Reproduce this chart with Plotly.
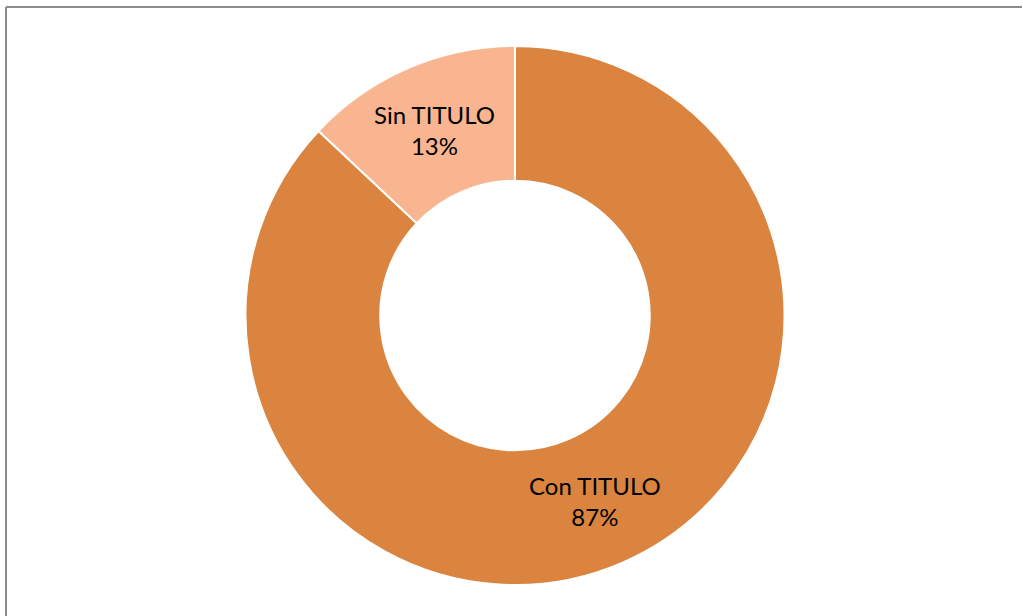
import math
import plotly.graph_objects as go

labels = ['Con TITULO', 'Sin TITULO']
values = [87, 13]
colors = ['#DA843F', '#F8B590']

W, H = 1023, 616
# donut box in pixels
top, bottom, cx = 46, 585, 515
cy = (top + bottom) / 2
r_out = (bottom - top) / 2
hole = 0.5

fig = go.Figure(go.Pie(
    labels=labels,
    values=values,
    hole=hole,
    sort=False,
    direction='clockwise',
    rotation=0,
    marker=dict(colors=colors, line=dict(color='white', width=2)),
    textinfo='none',
    domain=dict(x=[(cx - r_out) / W, (cx + r_out) / W], y=[1 - bottom / H, 1 - top / H]),
    showlegend=False,
    hoverinfo='label+percent',
))

# labels in the middle of each ring segment
total = sum(values)
cum = 0
annotations = []
for lab, v in zip(labels, values):
    mid = (cum + v / 2) / total * 2 * math.pi
    cum += v
    rm = r_out * (1 + hole) / 2
    px = cx + rm * math.sin(mid)
    py = cy - rm * math.cos(mid)
    annotations.append(dict(
        x=px / W, y=1 - py / H, xref='paper', yref='paper',
        xanchor='center', yanchor='middle',
        text=f'{lab}<br>{round(v / total * 100)}%', showarrow=False,
        font=dict(family='Lato', size=24, color='black'),
    ))

fig.update_layout(
    width=W,
    height=H,
    margin=dict(l=0, r=0, t=0, b=0),
    paper_bgcolor='white',
    plot_bgcolor='white',
    annotations=annotations,
    shapes=[
        dict(type='line', xref='paper', yref='paper',
             x0=6 / W, x1=1022 / W, y0=1 - 7 / H, y1=1 - 7 / H,
             line=dict(color='#8C8C8C', width=2)),
        dict(type='line', xref='paper', yref='paper',
             x0=6 / W, x1=6 / W, y0=0, y1=1 - 7 / H,
             line=dict(color='#8C8C8C', width=2)),
    ],
)

# page body has a default 8px margin, drop it
fig.write_html("out.html",
               config={'displayModeBar': False},
               post_script="document.body.style.margin='0';document.body.style.overflow='hidden';")
